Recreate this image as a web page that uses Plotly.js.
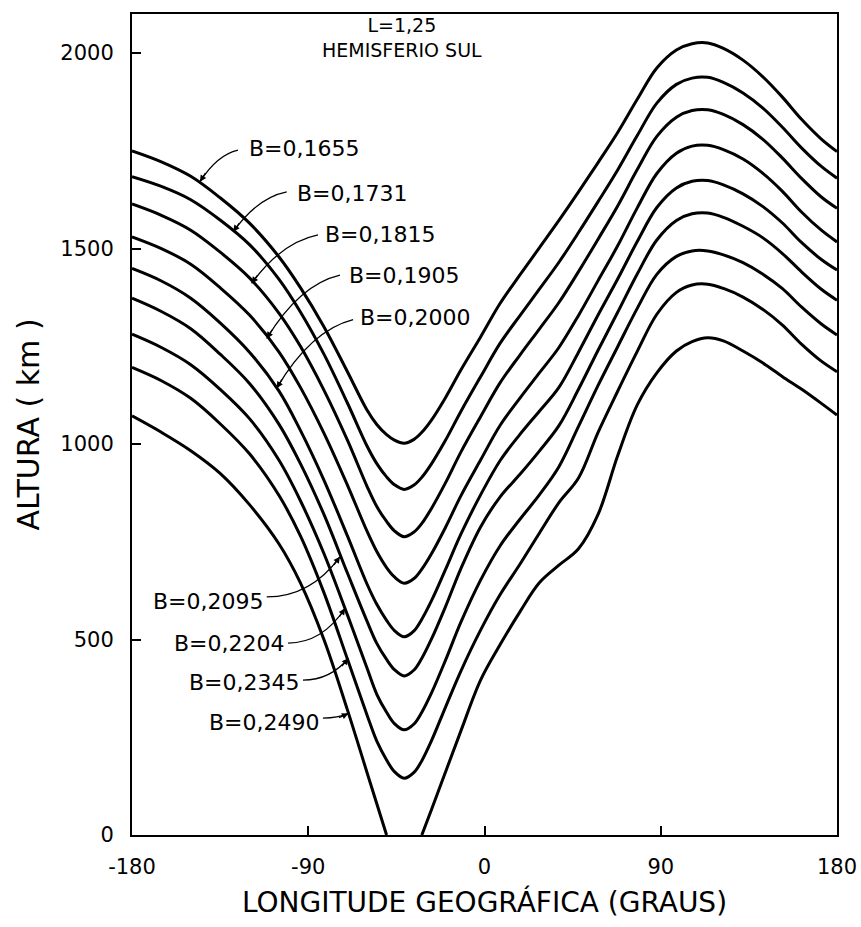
<!DOCTYPE html>
<html>
<head>
<meta charset="utf-8">
<script src="https://cdn.plot.ly/plotly-3.0.1.min.js"></script>
<style>html,body{margin:0;padding:0;background:#fff}#chart{width:861px;height:927px}</style>
</head>
<body>
<div id="chart"></div>
<script>
// Longitude grid (degrees) shared by all curves
const lon = [-180,-165,-150,-135,-120,-105,-94,-82,-70,-60,-55,-50,-46,-41,-36,-32,-27,-20,-12,-2,8,18,28,38,48,58,68,78,88,98,106,114,122,132,142,152,162,172,180];

// Altitude (km) of each constant-B curve, L = 1.25, southern hemisphere
const altB1655 = [1750,1722,1685,1630,1565,1479,1400,1300,1185,1087,1050,1024,1010,1002,1012,1030,1062,1118,1190,1274,1360,1432,1502,1572,1645,1720,1797,1882,1962,2008,2024,2026,2012,1982,1940,1888,1830,1780,1748];
const altB1731 = [1684,1659,1625,1573,1510,1422,1338,1230,1105,995,950,916,896,884,895,915,950,1009,1084,1172,1258,1328,1396,1465,1541,1620,1701,1789,1872,1920,1936,1938,1925,1898,1860,1811,1757,1710,1680];
const altB1815 = [1614,1585,1547,1491,1425,1335,1250,1138,1010,892,840,802,778,763,775,797,836,900,980,1070,1157,1227,1294,1362,1441,1524,1609,1702,1787,1836,1853,1855,1843,1817,1780,1732,1679,1632,1603];
const altB1905 = [1530,1500,1460,1400,1330,1236,1145,1028,895,777,725,684,660,644,656,680,720,786,868,959,1048,1117,1182,1247,1329,1418,1507,1604,1692,1744,1762,1764,1753,1729,1693,1647,1593,1547,1517];
const altB2000 = [1449,1417,1373,1310,1235,1136,1035,908,765,642,590,549,523,507,522,552,600,678,770,870,958,1024,1084,1145,1235,1330,1422,1518,1605,1655,1672,1674,1663,1640,1608,1566,1515,1472,1445];
const altB2095 = [1373,1339,1295,1230,1155,1051,950,820,670,547,490,449,423,407,422,452,502,583,682,788,865,922,982,1047,1140,1240,1337,1435,1522,1572,1589,1591,1580,1557,1528,1488,1440,1396,1368];
const altB2204 = [1281,1247,1203,1140,1065,959,855,720,563,427,360,314,285,269,284,314,364,446,545,652,740,807,870,942,1045,1150,1249,1347,1434,1480,1494,1494,1484,1464,1435,1398,1350,1307,1279];
const altB2345 = [1196,1162,1117,1052,975,869,765,620,450,307,240,192,162,145,160,190,242,326,420,524,615,692,772,850,913,1030,1135,1237,1332,1388,1407,1409,1398,1376,1345,1305,1255,1212,1185];
const altB2490 = [1072,1030,983,925,845,745,645,500,320,160,80,0,null,null,null,0,66,160,267,396,487,570,645,690,732,820,970,1100,1182,1238,1262,1272,1264,1238,1208,1173,1140,1104,1074];

const bLabels = ['B=0,1655','B=0,1731','B=0,1815','B=0,1905','B=0,2000','B=0,2095','B=0,2204','B=0,2345','B=0,2490'];
const xTickVals = [-180,-90,0,90,180];
const xTickText = ['-180','-90','0','90','180'];
const yTickVals = [0,500,1000,1500,2000];
const yTickText = ['0','500','1000','1500','2000'];

const series = [altB1655,altB1731,altB1815,altB1905,altB2000,altB2095,altB2204,altB2345,altB2490];

const traces = series.map((alt,i) => ({
  x: lon, y: alt, type:'scatter', mode:'lines', name: bLabels[i],
  connectgaps:false,
  line:{color:'#000', width:3, shape:'spline', smoothing:1},
  hoverinfo:'skip'
}));

// Label placement (layout): text position, curved leader (start, control, tip), arrowhead offset (px)
const labelPos = [
  {tx:-121.4, ty:1755, anchor:'left',  s:[-125.9,1752], c:[-136.5,1740], t:[-145.3,1671], a:[6.4,-10.1]},
  {tx:-96.8,  ty:1642, anchor:'left',  s:[-101.0,1645], c:[-116.0,1630], t:[-128.3,1543], a:[6.9,-9.8]},
  {tx:-82.5,  ty:1535, anchor:'left',  s:[-85.0,1535],  c:[-103.7,1516], t:[-118.9,1411], a:[7.0,-9.7]},
  {tx:-70.2,  ty:1432, anchor:'left',  s:[-73.8,1432],  c:[-94.4,1408],  t:[-111.2,1270], a:[6.3,-10.2]},
  {tx:-64.6,  ty:1323, anchor:'left',  s:[-67.1,1318],  c:[-88.6,1291],  t:[-106.1,1143], a:[6.1,-10.3]},
  {tx:-111.6, ty:596,  anchor:'right', s:[-111.2,609],  c:[-88.7,609],   t:[-73.8,712],   a:[-7.1,9.7]},
  {tx:-100.8, ty:491,  anchor:'right', s:[-100.3,491],  c:[-82.9,491],   t:[-71.2,580],   a:[-6.6,10.0]},
  {tx:-93.2,  ty:389,  anchor:'right', s:[-92.7,396],   c:[-78.8,396],   t:[-69.5,452],   a:[-7.7,9.2]},
  {tx:-83.0,  ty:289,  anchor:'right', s:[-82.5,299],   c:[-74.8,299],   t:[-69.5,311],   a:[-10.9,5.0]}
];

const annotations = [];
const shapes = [];
labelPos.forEach((p,i) => {
  annotations.push({x:p.tx, y:p.ty, xref:'x', yref:'y', text:bLabels[i], showarrow:false,
    xanchor:p.anchor, yanchor:'middle', font:{size:22, color:'#000'}});
  shapes.push({type:'path', xref:'x', yref:'y',
    path:`M ${p.s[0]},${p.s[1]} Q ${p.c[0]},${p.c[1]} ${p.t[0]},${p.t[1]}`,
    line:{color:'#000', width:1.3}});
  annotations.push({x:p.t[0], y:p.t[1], xref:'x', yref:'y', text:'', showarrow:true,
    ax:p.a[0], ay:p.a[1], arrowhead:2, arrowsize:1, arrowwidth:1.3, arrowcolor:'#000', standoff:0});
});
annotations.push({x:-42, y:2041, xref:'x', yref:'y', text:'L=1,25<br>HEMISFERIO SUL', showarrow:false,
  xanchor:'center', yanchor:'middle', font:{size:19, color:'#000'}});

const axisCommon = {
  ticks:'inside', ticklen:9, tickwidth:2, tickcolor:'#000',
  showline:true, mirror:true, linewidth:2, linecolor:'#000',
  showgrid:false, zeroline:false, ticklabelstandoff:12,
  tickfont:{size:21, color:'#000'}
};

const layout = {
  width:861, height:927,
  margin:{l:132, r:24, t:14, b:92},
  paper_bgcolor:'#fff', plot_bgcolor:'#fff',
  showlegend:false,
  font:{family:'DejaVu Sans, sans-serif', color:'#000'},
  xaxis:Object.assign({}, axisCommon, {
    range:[-180,180], tickmode:'array', tickvals:xTickVals, ticktext:xTickText,
    title:{text:'LONGITUDE GEOGRÁFICA (GRAUS)', font:{size:28}, standoff:14}
  }),
  yaxis:Object.assign({}, axisCommon, {
    range:[0,2100], tickmode:'array', tickvals:yTickVals, ticktext:yTickText,
    title:{text:'ALTURA ( km )', font:{size:30}, standoff:12}
  }),
  annotations:annotations,
  shapes:shapes
};

Plotly.newPlot('chart', traces, layout, {displayModeBar:false, staticPlot:true});
</script>
</body>
</html>
